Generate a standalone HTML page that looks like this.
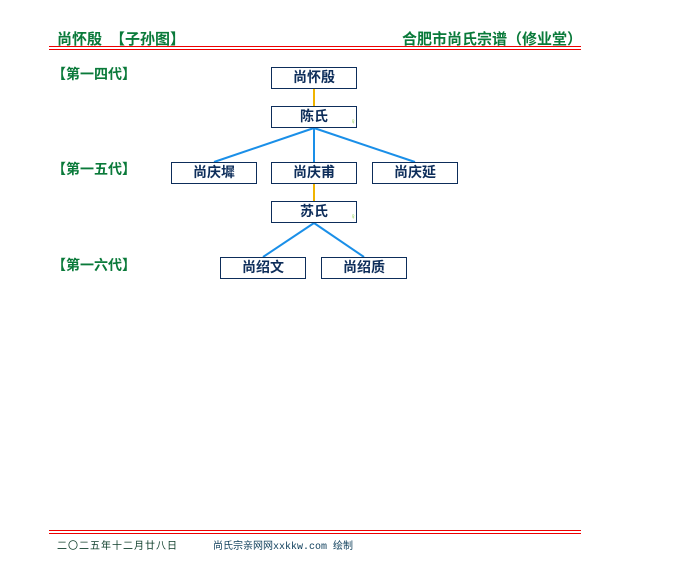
<!DOCTYPE html>
<html><head><meta charset="utf-8"><style>
body{margin:0;width:680px;height:580px;background:#fff;position:relative;font-family:"Liberation Sans","Noto Sans CJK SC",sans-serif;overflow:hidden}
.t{position:absolute;white-space:nowrap}
.g{color:#0a7a3a;font-weight:bold;font-size:14px}
.b{position:absolute;width:84px;height:20px;border:1px solid #0d2d5a;background:#fff;color:#0d2d5a;font-weight:bold;font-size:14px;text-align:center;line-height:19px}
.r{position:absolute;left:49px;width:532px;height:1px;background:#e00}
</style></head><body>
<div class="t g" style="left:57px;top:28px;font-size:15px">尚怀殷</div>
<div class="t g" style="left:110px;top:28px;font-size:15px">【子孙图】</div>
<div class="t g" style="left:402px;top:28px;font-size:15px">合肥市尚氏宗谱（修业堂）</div>
<div class="r" style="top:46px"></div><div class="r" style="top:49px"></div>
<div class="t g" style="left:52px;top:64px">【第一四代】</div>
<div class="t g" style="left:52px;top:159px">【第一五代】</div>
<div class="t g" style="left:52px;top:255px">【第一六代】</div>
<svg style="position:absolute;left:0;top:0" width="680" height="580">
<g stroke-width="2" fill="none">
<line x1="314" y1="89" x2="314" y2="106" stroke="#f0b400"/>
<line x1="314" y1="184" x2="314" y2="201" stroke="#f0b400"/>
<g stroke="#1a8fe8">
<line x1="314" y1="128" x2="214" y2="162"/><line x1="314" y1="128" x2="314" y2="162"/><line x1="314" y1="128" x2="415" y2="162"/>
<line x1="314" y1="223" x2="263" y2="257"/><line x1="314" y1="223" x2="364" y2="257"/>
</g></g></svg>
<div class="b" style="left:271px;top:67px">尚怀殷</div>
<div class="b" style="left:271px;top:106px">陈氏</div>
<div class="b" style="left:171px;top:162px">尚庆墀</div>
<div class="b" style="left:271px;top:162px">尚庆甫</div>
<div class="b" style="left:372px;top:162px">尚庆延</div>
<div class="b" style="left:271px;top:201px">苏氏</div>
<div class="b" style="left:220px;top:257px">尚绍文</div>
<div class="b" style="left:321px;top:257px">尚绍质</div>
<div class="t" style="left:350px;top:117px;font-size:8px;color:#8c4">♀</div>
<div class="t" style="left:350px;top:212px;font-size:8px;color:#8c4">♀</div>
<div class="r" style="top:530px"></div><div class="r" style="top:533px"></div>
<div class="t" style="left:57px;top:537px;font-size:10px;letter-spacing:1px;color:#0d3d2a">二〇二五年十二月廿八日</div>
<div class="t" style="left:213px;top:537px;font-size:10px;color:#0d3d5a;font-family:'Liberation Mono','Noto Sans CJK SC',monospace">尚氏宗亲网网xxkkw.com 绘制</div>
</body></html>
